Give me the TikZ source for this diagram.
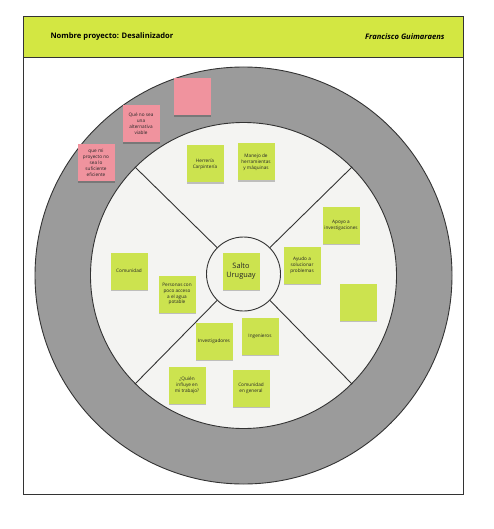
\documentclass[tikz,border=0pt]{standalone}
\usepackage{fontspec}
\setmainfont{Open Sans}
\usetikzlibrary{shadows}
\definecolor{hdr}{HTML}{D3E742}
\definecolor{stg}{HTML}{CCE34F}
\definecolor{stp}{HTML}{F0939E}
\definecolor{ring}{HTML}{9B9B9B}
\definecolor{inner}{HTML}{F4F4F2}
\definecolor{ink}{HTML}{333333}
\tikzset{
  sticky/.style={minimum width=37pt, minimum height=37pt, inner sep=1pt, align=center,
    font=\fontsize{4.7}{5.9}\selectfont, text=black!85,
    drop shadow={shadow xshift=0.5pt, shadow yshift=-1.6pt, opacity=0.22, fill=black}},
  gst/.style={sticky, fill=stg},
  pst/.style={sticky, fill=stp},
  ringline/.style={draw=ink, line width=0.9pt},
}
\begin{document}
\begin{tikzpicture}[x=1pt,y=-1pt]
\useasboundingbox (0,0) rectangle (493,529);
\fill[white] (0,0) rectangle (493,529);
% frame and header
\node[draw=ink, line width=1.2pt, fill=white, minimum width=440pt, minimum height=478pt, inner sep=0, anchor=north west] (frame) at (23,16) {};
\node[draw=ink, line width=1.2pt, fill=hdr, minimum width=440pt, minimum height=41pt, inner sep=0, anchor=north west] (hdr) at (23,16) {};
\node[anchor=west, font=\fontsize{7.6}{9}\selectfont\bfseries] (title) at (47,37) {Nombre proyecto: Desalinizador};
\node[anchor=east, font=\fontsize{7.6}{9}\selectfont\bfseries\itshape] (author) at (448,37) {Francisco Guimaraens};
% circles
\node[circle, ringline, fill=ring, minimum size=417pt, inner sep=0] (oc) at (243.5,275.5) {};
\node[circle, ringline, fill=inner, minimum size=306pt, inner sep=0] (ic) at (243.5,275.5) {};
\node[circle, ringline, fill=inner, minimum size=74pt, inner sep=0] (cc) at (243.5,274) {};
\foreach \a in {45,135,225,315} \draw[ringline] (cc.\a) -- (ic.\a);
% pink stickies
\node[pst] (p1) at (192,97) {};
\node[pst] (p2) at (141,124) {Qué no sea\\una\\alternativa\\viable};
\node[pst] (p3) at (96,163) {que mi\\proyecto no\\sea lo\\suficiente\\eficiente};
% green stickies
\node[gst] (g1) at (205,164) {Herrería\\Carpintería};
\node[gst] (g2) at (256,162) {Manejo de\\herramientas\\y máquinas};
\node[gst] (g3) at (341,225) {Apoyo a\\investigaciones};
\node[gst] (g4) at (302,265) {Ayudo a\\solucionar\\problemas};
\node[gst] (g5) at (358,302) {};
\node[gst] (g6) at (129,271) {Comunidad};
\node[gst] (g7) at (177,294) {Personas con\\poco acceso\\a el agua\\potable};
\node[gst, font=\fontsize{7.4}{9}\selectfont] (g8) at (241,271) {Salto\\Uruguay};
\node[gst] (g9) at (214,341) {Investigadores};
\node[gst] (g10) at (260,336) {Ingenieros};
\node[gst] (g11) at (187,385) {¿Quién\\influye en\\mi trabajo?};
\node[gst] (g12) at (251,388) {Comunidad\\en general};
\end{tikzpicture}
\end{document}
